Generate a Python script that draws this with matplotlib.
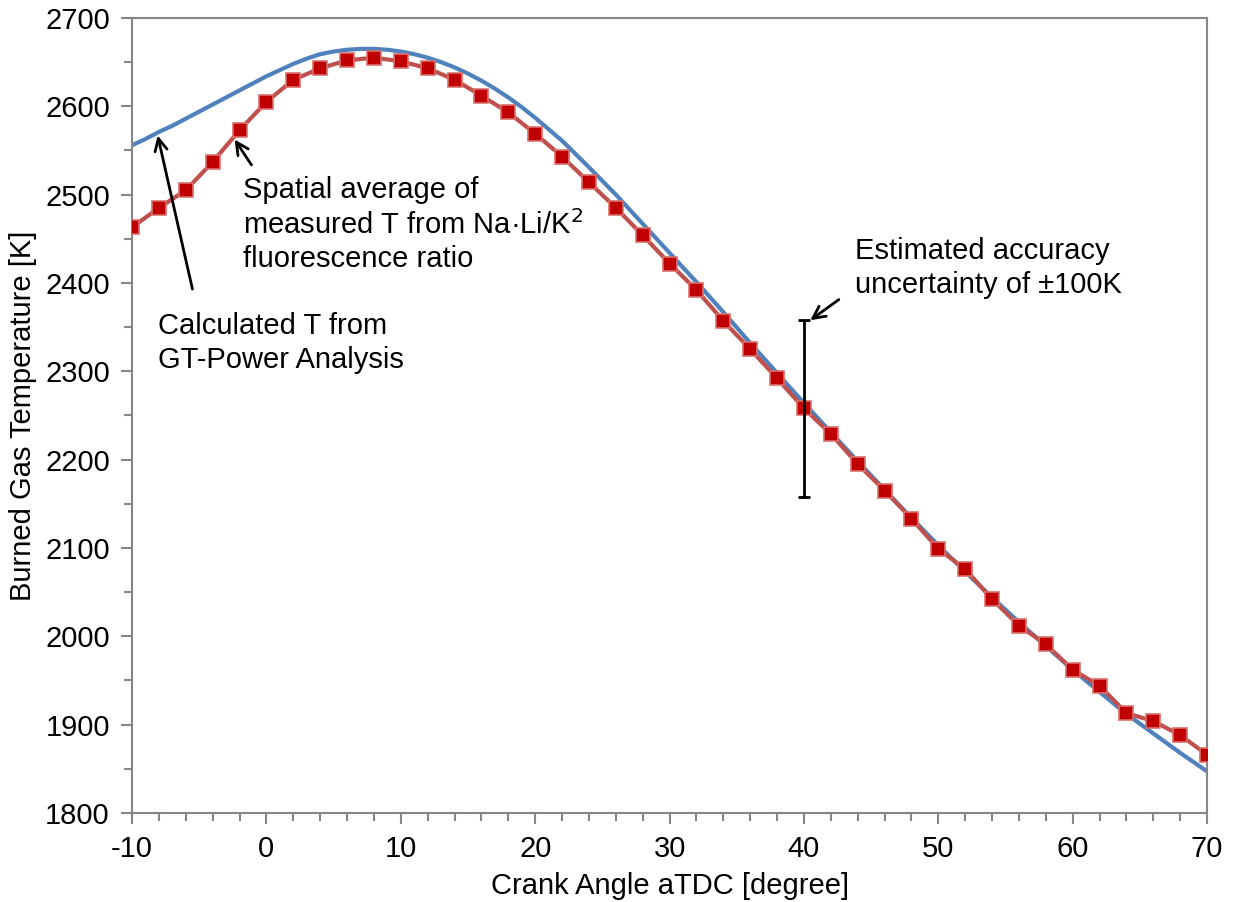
import numpy as np
import matplotlib
matplotlib.use("Agg")
import matplotlib.pyplot as plt
from matplotlib.ticker import MultipleLocator

plt.rcParams['font.family'] = ['Liberation Sans', 'DejaVu Sans']
plt.rcParams['axes.unicode_minus'] = False

# measured (spatial average) temperature, every 2 deg CA
ca_meas = np.arange(-10, 71, 2)
t_meas = [2463, 2485, 2505, 2537, 2573, 2605, 2630, 2643, 2652, 2655,
          2651, 2643, 2630, 2612, 2593, 2569, 2543, 2514, 2485, 2454,
          2422, 2392, 2357, 2325, 2292, 2258, 2229, 2195, 2165, 2133,
          2099, 2076, 2042, 2012, 1991, 1962, 1944, 1913, 1904, 1888, 1866]

# GT-Power calculated temperature
ca_calc = list(range(-10, 21)) + list(range(22, 71, 2))
t_calc = [2556, 2563, 2571, 2578, 2586, 2594, 2602, 2610, 2618, 2626,
          2634, 2641, 2648, 2654, 2659, 2662, 2664, 2665, 2665, 2664,
          2662, 2659, 2655, 2650, 2644, 2637, 2629, 2620, 2610, 2599,
          2587,
          2561, 2531, 2500, 2467, 2434, 2401, 2367, 2332, 2298, 2264,
          2231, 2198, 2166, 2134, 2103, 2073, 2044, 2016, 1989, 1962,
          1937, 1912, 1890, 1868, 1847]

err_x = 40
err_y = 2258
err_size = 100

fig = plt.figure(figsize=(12.33, 9.02), dpi=100)
ax = fig.add_axes([0.1071, 0.0987, 0.8719, 0.8814])

ax.plot(ca_calc, t_calc, color='#4F81BD', lw=3, zorder=2)
ax.plot(ca_meas, t_meas, color='#C0504D', lw=3, marker='s', ms=10.5,
        mfc='#C00000', mec='#D9706C', mew=1.2, zorder=3)
ax.errorbar([err_x], [err_y], yerr=[err_size], fmt='none', ecolor='black',
            elinewidth=2, capsize=4, capthick=2, zorder=4)

ax.set_xlim(-10, 70)
ax.set_ylim(1800, 2700)
ax.xaxis.set_major_locator(MultipleLocator(10))
ax.xaxis.set_minor_locator(MultipleLocator(2))
ax.yaxis.set_major_locator(MultipleLocator(100))
ax.yaxis.set_minor_locator(MultipleLocator(50))
ax.tick_params(which='both', direction='out', color='#868686', width=1.5,
               labelsize=21, pad=8)
ax.tick_params(which='major', length=8)
ax.tick_params(which='minor', length=6)
for s in ax.spines.values():
    s.set_color('#868686')
    s.set_linewidth(1.5)

ax.set_xlabel('Crank Angle aTDC [degree]', fontsize=21, labelpad=6)
ax.set_ylabel('Burned Gas Temperature [K]', fontsize=21, labelpad=6)

fs = 21
ls = 1.25
arrow = dict(arrowstyle='->', color='black', lw=2, mutation_scale=22)
ax.annotate('', xy=(-2.48, 2565), xytext=(-1.0, 2531), arrowprops=arrow)
ax.text(-1.74, 2521, 'Spatial average of\nmeasured T from Na·Li/K$^2$\nfluorescence ratio',
        fontsize=fs, va='top', ha='left', linespacing=ls)
ax.annotate('', xy=(-8.14, 2570), xytext=(-5.46, 2390), arrowprops=arrow)
ax.text(-8.07, 2367, 'Calculated T from\nGT-Power Analysis',
        fontsize=fs, va='top', ha='left', linespacing=ls)
ax.annotate('', xy=(40.3, 2356), xytext=(42.76, 2383), arrowprops=arrow)
ax.text(43.8, 2452, 'Estimated accuracy\nuncertainty of ±100K',
        fontsize=fs, va='top', ha='left', linespacing=ls)

fig.savefig('out.png', dpi=100)
